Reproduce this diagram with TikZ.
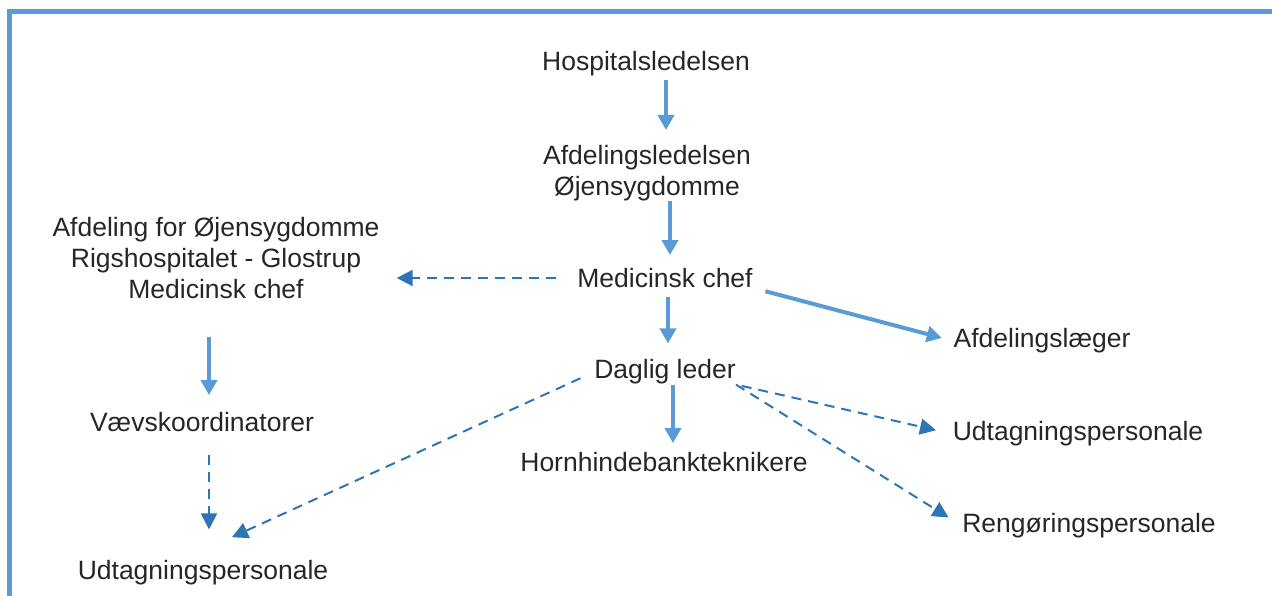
\documentclass[tikz,border=0pt]{standalone}
\usepackage{fontspec}
\setmainfont{Liberation Sans}
\usepackage{tikz}
\usetikzlibrary{arrows.meta, positioning}
\usepackage{xcolor}
\definecolor{lightblue}{HTML}{5B9BD5}
\definecolor{darkblue}{HTML}{2E75B6}

\begin{document}
\begin{tikzpicture}[x=1pt, y=-1pt,
          every node/.style={font=\fontsize{26.5}{31}\selectfont, align=center,
                             inner sep=0pt, text=black!85},
          solidarr/.style={draw=lightblue, line width=4pt,
                           -{Triangle[width=16pt,length=15pt]}},
          dasharr/.style={draw=darkblue, line width=2pt, dash pattern=on 10pt off 7pt,
                          -{Triangle[width=16pt,length=16pt]}}]
        \useasboundingbox (0,0) rectangle (1272,596);
        % frame
        \draw[lightblue, line width=5pt] (7,11.5) -- (1272,11.5);
        \draw[lightblue, line width=4.7pt] (9.7,9) -- (9.7,596);
        % right column
        \node (hosp)   at (646,64)  {Hospitalsledelsen};
        \node (afd)    at (647,173) {Afdelingsledelsen\\Øjensygdomme};
        \node (med)    at (665,278) {Medicinsk chef};
        \node (daglig) at (665,372) {Daglig leder};
        \node (horn)   at (664,462) {Hornhindebankteknikere};
        \node (laeger) at (1042,341) {Afdelingslæger};
        \node (udtH)   at (1078,434) {Udtagningspersonale};
        \node (reng)   at (1089,526) {Rengøringspersonale};
        % left column
        \node (rigs)   at (216,258) {Afdeling for Øjensygdomme\\Rigshospitalet - Glostrup\\Medicinsk chef};
        \node (vaev)   at (202,422) {Vævskoordinatorer};
        \node (udtV)   at (203,573) {Udtagningspersonale};
        % connectors
        \draw[solidarr, shorten <=3pt, shorten >=15pt]
             ([xshift=20pt]hosp.south) -- ([xshift=20pt]hosp.south |- afd.north);
        \draw[solidarr, shorten >=13pt]
             ([xshift=23pt]afd.south) -- ([xshift=23pt]afd.south |- med.north);
        \draw[solidarr, shorten <=9pt, shorten >=16pt]
             ([xshift=3pt]med.south) -- ([xshift=3pt]med.south |- daglig.north);
        \draw[solidarr, shorten <=13pt, shorten >=12pt] (med.south east) -- (laeger.west);
        \draw[dasharr, shorten <=21pt, shorten >=17pt] (med.west) -- (med.west -| rigs.east);
        \draw[solidarr, shorten <=38pt, shorten >=17pt]
             ([xshift=-7pt]rigs.south) -- ([xshift=-7pt]rigs.south |- vaev.north);
        \draw[dasharr, shorten <=23pt, shorten >=31pt]
             ([xshift=7pt]vaev.south) -- ([xshift=7pt]vaev.south |- udtV.north);
        \draw[solidarr, shorten >=9pt]
             ([xshift=8pt]daglig.south) -- ([xshift=8pt]daglig.south |- horn.north);
        \draw[dasharr, shorten <=15pt, shorten >=56pt] (daglig.west) -- ([xshift=-22pt]udtV.north);
        \draw[dasharr, shorten <=6pt, shorten >=17pt] (daglig.south east) -- (udtH.west);
        \draw[dasharr, shorten <=0pt, shorten >=16pt] (daglig.south east) -- (reng.west);
      \end{tikzpicture}
\end{document}
